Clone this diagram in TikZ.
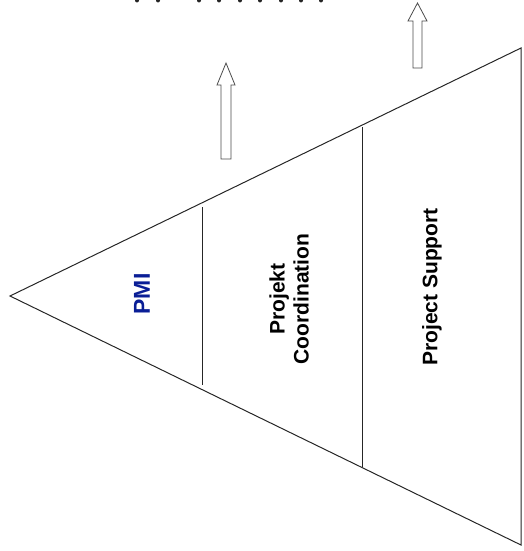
\documentclass[tikz,border=0pt]{standalone}
\usepackage{fontspec}
\setmainfont{Liberation Sans}
\definecolor{pmiblue}{RGB}{10,30,150}
\begin{document}
\begin{tikzpicture}[x=1pt,y=-1pt,
  edge/.style={draw=black!85,line width=1pt},
  blockarrow/.style={draw=black!70,line width=0.8pt,fill=white},
  dot/.style={fill=black!85,draw=none},
  lbl/.style={rotate=90,inner sep=0pt,font=\bfseries\fontsize{21}{24}\selectfont,align=center}]
\useasboundingbox (0,0) rectangle (524,551);
% triangle
\coordinate (apex) at (10,296);
\coordinate (tr) at (521,48);
\coordinate (br) at (521,545);
\draw[edge,line join=miter] (tr) -- (apex) -- (br) -- cycle;
% dividers
\coordinate (d1t) at (202,207);
\coordinate (d1b) at (202,385);
\coordinate (d2t) at (362,127);
\coordinate (d2b) at (362,467);
\draw[edge] (d1t) -- (d1b);
\draw[edge] (d2t) -- (d2b);
% block arrows
\draw[blockarrow] (221,159) -- (221,85) -- (217,85) -- (226,63) -- (235,85) -- (231,85) -- (231,159) -- cycle;
\draw[blockarrow] (413,68) -- (413,21) -- (408,21) -- (417.5,3) -- (427,21) -- (422,21) -- (422,68) -- cycle;
% dots at top edge (cut text remnants)
\foreach \xx in {137,158,199,219,240,260,281,301,321}
  \fill[dot] (\xx,0.5) circle (2);
% labels
\node[lbl,text=pmiblue,font=\bfseries\fontsize{23}{26}\selectfont] (pmi) at (142,294) {PMI};
\node[lbl] (coord) at (289,299) {Projekt\\Coordination};
\node[lbl] (support) at (432,287) {Project Support};
\end{tikzpicture}
\end{document}
